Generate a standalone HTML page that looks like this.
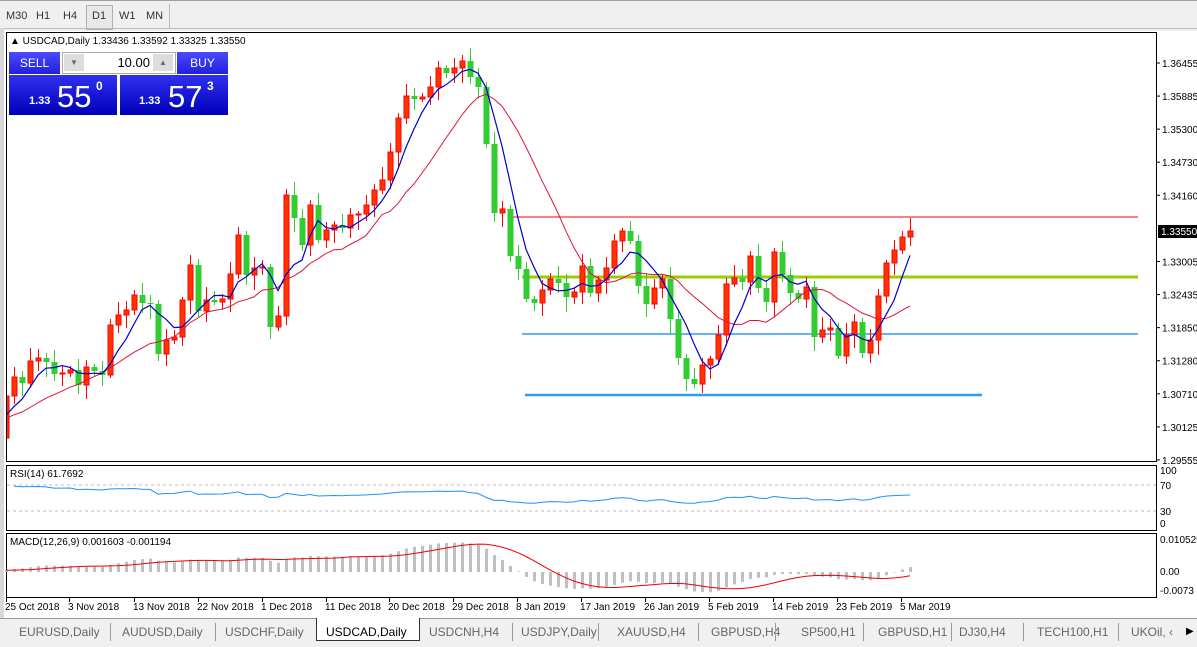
<!DOCTYPE html>
<html><head><meta charset="utf-8">
<style>
html,body{margin:0;padding:0;width:1197px;height:646px;overflow:hidden;background:#fff;font-family:"Liberation Sans",sans-serif;}
#top{position:absolute;left:0;top:0;width:1197px;height:30px;background:#f0f0f0;border-top:1px solid #a0a0a0;}
.tf{position:absolute;top:9px;font-size:11px;color:#333;}
#d1{position:absolute;left:86px;top:4px;width:25px;height:23px;border:1px solid #b0b0b0;background:#e8e8e8;}
#tabs{position:absolute;left:0;top:618px;width:1197px;height:28px;background:#f0f0f0;border-top:1px solid #999;}
.tab{position:absolute;top:6px;font-size:12px;color:#666;}
.sep{position:absolute;top:4px;width:1px;height:18px;background:#999;}
</style></head><body>
<div id="top">
<div id="d1"></div>
<span class="tf" style="left:6px">M30</span>
<span class="tf" style="left:36px">H1</span>
<span class="tf" style="left:63px">H4</span>
<span class="tf" style="left:92px">D1</span>
<span class="tf" style="left:119px">W1</span>
<span class="tf" style="left:146px">MN</span>
<div style="position:absolute;left:169px;top:3px;width:1px;height:24px;background:#bbb"></div>
<div style="position:absolute;left:0;top:27px;width:1197px;height:1px;background:#bbb"></div>
</div>
<svg id="s" width="1197" height="646" style="position:absolute;left:0;top:0" xmlns="http://www.w3.org/2000/svg" font-family="Liberation Sans, sans-serif"></svg>
<div style="position:absolute;left:9px;top:52px;width:51px;height:22px;background:linear-gradient(#4a4aff,#2020e0);color:#fff;font-size:12px;text-align:center;line-height:22px">SELL</div>
<div style="position:absolute;left:177px;top:52px;width:51px;height:22px;background:linear-gradient(#4a4aff,#2020e0);color:#fff;font-size:12px;text-align:center;line-height:22px">BUY</div>
<div style="position:absolute;left:62px;top:52px;width:112px;height:20px;background:#fff;border:1px solid #aaa"></div>
<div style="position:absolute;left:64px;top:54px;width:20px;height:17px;background:#ddd;color:#668;font-size:8px;text-align:center;line-height:17px">▼</div>
<div style="position:absolute;left:153px;top:54px;width:20px;height:17px;background:#ddd;color:#668;font-size:8px;text-align:center;line-height:17px">▲</div>
<div style="position:absolute;left:100px;top:54px;width:50px;font-size:13px;text-align:right;line-height:17px">10.00</div>
<div style="position:absolute;left:9px;top:75px;width:108px;height:40px;background:linear-gradient(#3030f0,#0000b8);color:#fff">
<span style="position:absolute;left:20px;top:20px;font-size:11px;font-weight:bold">1.33</span>
<span style="position:absolute;left:48px;top:4px;font-size:31px">55</span>
<span style="position:absolute;left:87px;top:4px;font-size:12px;font-weight:bold">0</span></div>
<div style="position:absolute;left:120px;top:75px;width:108px;height:40px;background:linear-gradient(#3030f0,#0000b8);color:#fff">
<span style="position:absolute;left:19px;top:20px;font-size:11px;font-weight:bold">1.33</span>
<span style="position:absolute;left:48px;top:4px;font-size:31px">57</span>
<span style="position:absolute;left:87px;top:4px;font-size:12px;font-weight:bold">3</span></div>
<div id="tabs">
<div style="position:absolute;left:316px;top:-1px;width:102px;height:22px;background:#fff;border:1px solid #333;border-top:none"></div>
<span class="tab" style="left:19px">EURUSD,Daily</span><div class="sep" style="left:110px"></div>
<span class="tab" style="left:122px">AUDUSD,Daily</span><div class="sep" style="left:215px"></div>
<span class="tab" style="left:225px">USDCHF,Daily</span>
<span class="tab" style="left:326px;color:#000">USDCAD,Daily</span>
<span class="tab" style="left:429px">USDCNH,H4</span><div class="sep" style="left:512px"></div>
<span class="tab" style="left:521px">USDJPY,Daily</span><div class="sep" style="left:598px"></div>
<span class="tab" style="left:617px">XAUUSD,H4</span><div class="sep" style="left:698px"></div>
<span class="tab" style="left:711px">GBPUSD,H4</span><div class="sep" style="left:775px"></div>
<span class="tab" style="left:801px">SP500,H1</span><div class="sep" style="left:863px"></div>
<span class="tab" style="left:878px">GBPUSD,H1</span><div class="sep" style="left:951px"></div>
<span class="tab" style="left:959px">DJ30,H4</span><div class="sep" style="left:1023px"></div>
<span class="tab" style="left:1037px">TECH100,H1</span><div class="sep" style="left:1118px"></div>
<span class="tab" style="left:1131px">UKOil, ‹</span>
<span class="tab" style="left:1186px;color:#000;font-size:10px;top:7px">▶</span>
</div>
<script>
(function(){
var C=[396,377,383,361,358,362,374,373,370,385,367,371,375,325,315,310,295,303,304,354,340,337,300,265,311,300,302,299,274,235,275,268,267,327,316,195,218,245,205,240,230,225,228,215,214,205,190,180,152,118,96,99,97,87,68,73,68,61,77,87,144,213,209,256,269,299,303,290,279,283,297,292,266,293,280,268,241,231,241,286,304,288,279,319,358,379,384,365,359,335,284,278,282,256,288,302,252,275,293,299,287,337,330,328,356,335,322,353,340,296,263,250,237,231];
var O=[438];for(var i=1;i<C.length;i++)O.push(C[i-1]);
var s='';
function L(x1,y1,x2,y2,c,w,d){s+='<line x1="'+x1+'" y1="'+y1+'" x2="'+x2+'" y2="'+y2+'" stroke="'+c+'" stroke-width="'+(w||1)+'"'+(d?' stroke-dasharray="'+d+'"':'')+'/>';}
function T(x,y,t,sz,c,a){s+='<text x="'+x+'" y="'+y+'" font-size="'+(sz||10)+'" fill="'+(c||'#000')+'"'+(a?' text-anchor="'+a+'"':'')+'>'+t+'</text>';}
s+='<rect x="0" y="28" width="4" height="590" fill="#d8d8d8"/>';
s+='<rect x="6.5" y="32.5" width="1150" height="429" fill="none" stroke="#000"/>';
s+='<rect x="6.5" y="465.5" width="1150" height="65" fill="none" stroke="#000"/>';
s+='<rect x="6.5" y="533.5" width="1150" height="64" fill="none" stroke="#000"/>';
s+='<clipPath id="cp"><rect x="7" y="33" width="1149" height="428"/></clipPath><g clip-path="url(#cp)">';
L(510,217,1138,217,'#ff3030',1.2);
L(522,277,1138,277,'#9acd00',3);
L(522,334,1138,334,'#3399ee',1.5);
L(525,395,982,395,'#3399ee',2.5);
function ma(n,i){var t=0;for(var k=i-n+1;k<=i;k++)t+=(k<0?420:C[k]);return t/n;}
for(var i=0;i<C.length;i++){var x=6+8*i,o=O[i],c=C[i],up=c<o;var col=up?'#ff0000':'#32cd32';
var hi=Math.min(o,c)-(3+(i*7)%11),lo=Math.max(o,c)+(3+(i*5)%13);
L(x+0.5,hi,x+0.5,lo,col,1);
var tt=Math.min(o,c),h=Math.max(1,Math.abs(o-c));
if(up)s+='<rect x="'+(x-2)+'" y="'+tt+'" width="5" height="'+h+'" fill="#ff3300" stroke="#ff0000" stroke-width="1"/>';
else s+='<rect x="'+(x-2.5)+'" y="'+tt+'" width="6" height="'+h+'" fill="#32cd32"/>';}
var pb='',pr='';
for(var i=0;i<C.length;i++){var x=6+8*i;pb+=(i?'L':'M')+x+','+ma(5,i).toFixed(1);}
for(var i=0;i<C.length;i++){var x=6+8*i;var v=ma(13,i);pr+=(i?'L':'M')+x+','+v.toFixed(1);}
s+='<path d="'+pr+'" fill="none" stroke="#dc143c" stroke-width="1"/>';
s+='<path d="'+pb+'" fill="none" stroke="#0000cc" stroke-width="1.2"/>';
s+='</g>';
var labs=['1.36455','1.35885','1.35300','1.34730','1.34160','','1.33005','1.32435','1.31850','1.31280','1.30710','1.30125','1.29555'];
for(var k=0;k<13;k++){var y=63+k*33.08;if(labs[k]){L(1157,y,1160,y,'#000');T(1162,y+4,labs[k],10);}}
s+='<rect x="1158" y="225" width="39" height="13" fill="#000"/>';T(1161,235,'1.33550',10,'#fff');
T(10,44,'▲ USDCAD,Daily  1.33436 1.33592 1.33325 1.33550',10);
L(7,485,1156,485,'#bbb',1,'3,3');L(7,511,1156,511,'#bbb',1,'3,3');
var g=0,l=0,rp='';
for(var i=1;i<C.length;i++){var d=C[i-1]-C[i];var gg=d>0?d:0,ll=d<0?-d:0;
if(i==1){g=gg+2;l=ll+1;}else{g=(g*13+gg)/14;l=(l*13+ll)/14;}
var r=100-100/(1+g/(l||0.01));r=50+(r-50)*0.4;var y=485+(70-r)*0.65;rp+=(i>1?'L':'M')+(6+8*i)+','+y.toFixed(1);}
s+='<path d="'+rp+'" fill="none" stroke="#1e90ff" stroke-width="1"/>';
T(10,477,'RSI(14) 61.7692',10);
T(1160,474,'100',10);T(1160,489,'70',10);T(1160,515,'30',10);T(1160,527,'0',10);
function ema(a,n){var k=2/(n+1),r=[],v=a[0];for(var i=0;i<a.length;i++){v=i?a[i]*k+v*(1-k):a[i];r.push(v);}return r;}
var pr2=C.map(function(y){return 1.36455-(y-63)/397*0.069;});
var pre=[];for(var k=0;k<30;k++)pre.push(pr2[0]-0.004+k*0.0001);var full=pre.concat(pr2);
var e12=ema(full,12),e26=ema(full,26),m=[];for(var i=0;i<full.length;i++)m.push(e12[i]-e26[i]);
var sg=[];for(var i=0;i<m.length;i++){var t=0,n=0;for(var k=Math.max(0,i-8);k<=i;k++){t+=m[k];n++;}sg.push(t/n);}
var sp='';
for(var i=0;i<C.length;i++){var v=m[i+30],x=6+8*i;var y=572-v*3100;var yt=Math.min(y,572),h=Math.abs(y-572);
s+='<rect x="'+(x-1)+'" y="'+yt.toFixed(1)+'" width="3" height="'+Math.max(h,0.5).toFixed(1)+'" fill="#c0c0c0"/>';
sp+=(i?'L':'M')+x+','+(572-sg[i+30]*3100).toFixed(1);}
s+='<path d="'+sp+'" fill="none" stroke="#ee0000" stroke-width="1"/>';
T(10,545,'MACD(12,26,9) 0.001603 -0.001194',10);
T(1160,543,'0.010525',10);T(1160,575,'0.00',10);T(1160,594,'-0.0073',10);
var dl=[[6,'25 Oct 2018'],[69,'3 Nov 2018'],[134,'13 Nov 2018'],[198,'22 Nov 2018'],[262,'1 Dec 2018'],[326,'11 Dec 2018'],[389,'20 Dec 2018'],[453,'29 Dec 2018'],[517,'8 Jan 2019'],[581,'17 Jan 2019'],[645,'26 Jan 2019'],[709,'5 Feb 2019'],[773,'14 Feb 2019'],[837,'23 Feb 2019'],[901,'5 Mar 2019']];
dl.forEach(function(d){L(d[0]+0.5,598,d[0]+0.5,602,'#000');T(d[0]-1,610,d[1],10);});
document.getElementById('s').innerHTML=s;
})();
</script>
</body></html>
